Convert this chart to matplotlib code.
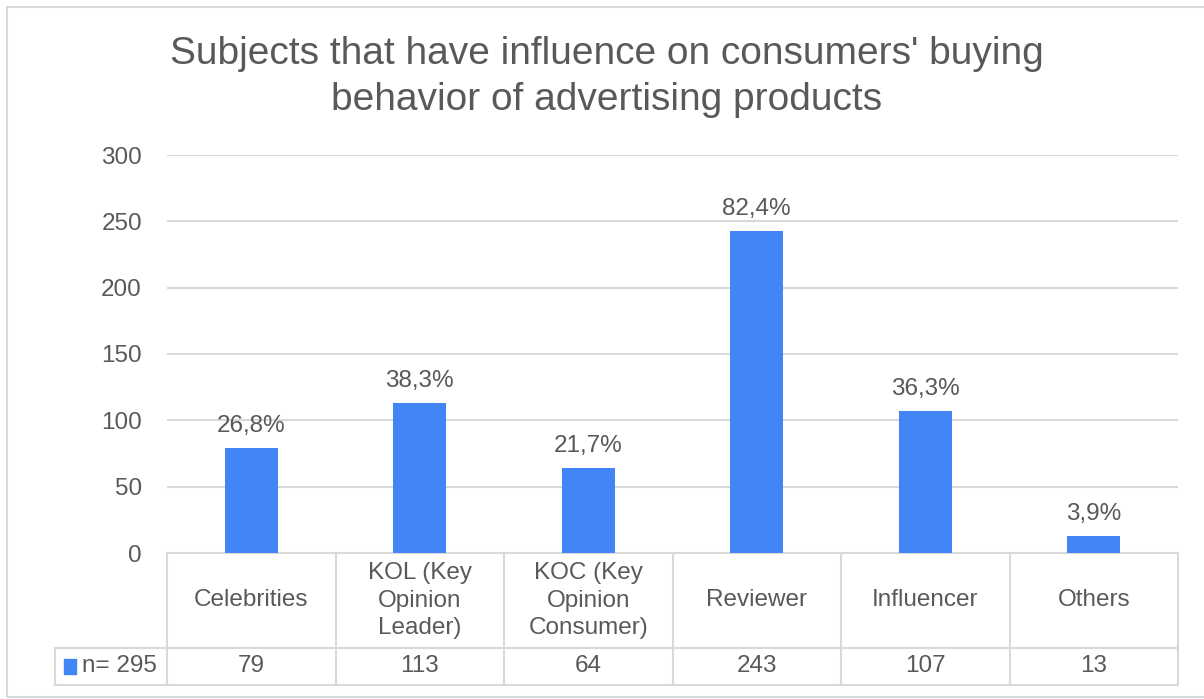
import matplotlib
matplotlib.use('Agg')

import matplotlib.pyplot as plt
from matplotlib.patches import Rectangle
from matplotlib.transforms import blended_transform_factory

plt.rcParams['font.family'] = ['Liberation Sans', 'DejaVu Sans']

categories = ['Celebrities', 'KOL (Key\nOpinion\nLeader)', 'KOC (Key\nOpinion\nConsumer)',
              'Reviewer', 'Influencer', 'Others']
counts = [79, 113, 64, 243, 107, 13]
percent_labels = ['26,8%', '38,3%', '21,7%', '82,4%', '36,3%', '3,9%']
series_name = 'n= 295'
yticks = [0, 50, 100, 150, 200, 250, 300]

BLUE = '#4285F4'
TEXT = '#595959'
GRID = '#D9D9D9'
FS = 17.5

fig = plt.figure(figsize=(12.04, 6.99), dpi=100)

# outer chart frame
fig.patches.append(Rectangle((7 / 1204, 2 / 699), 1.0, 690 / 699, transform=fig.transFigure,
                             fill=False, edgecolor=GRID, linewidth=1.5))

fig.text(607 / 1204, 1 - 77 / 699,
         "Subjects that have influence on consumers' buying\nbehavior of advertising products",
         ha='center', va='center', fontsize=28, color=TEXT, linespacing=1.36)

ax = fig.add_axes([167 / 1204, 146 / 699, 1011 / 1204, 398 / 699])
x = [i + 0.5 for i in range(len(categories))]
ax.bar(x, counts, width=0.315, color=BLUE, zorder=3)
ax.set_xlim(0, len(categories))
ax.set_ylim(0, 300)

for s in ax.spines.values():
    s.set_visible(False)
ax.set_xticks([])
ax.set_yticks(yticks)
ax.tick_params(axis='y', length=0, pad=18, labelsize=FS, labelcolor=TEXT)
for t in yticks[1:]:
    ax.axhline(t, color=GRID, linewidth=1.5, zorder=1)

for xi, c, lab in zip(x, counts, percent_labels):
    ax.annotate(lab, (xi, c), xytext=(0, 8), textcoords='offset points',
                ha='center', va='bottom', fontsize=FS, color=TEXT)

# data table below the plot: x in data units, y in axes fraction
tr = blended_transform_factory(ax.transData, ax.transAxes)
h = 398.0
row1 = -95 / h
row2 = -132 / h
left = -112 / 168.5
n = len(categories)
kw = dict(color=GRID, linewidth=1.5, transform=tr, clip_on=False, zorder=2)
ax.plot([0, n], [0, 0], **kw)
ax.plot([left, n], [row1, row1], **kw)
ax.plot([left, n], [row2, row2], **kw)
ax.plot([left, left], [row1, row2], **kw)
for i in range(n + 1):
    ax.plot([i, i], [0, row2], **kw)

for xi, cat, c in zip(x, categories, counts):
    ax.text(xi, row1 / 2, cat, transform=tr, ha='center', va='center',
            fontsize=FS, color=TEXT, linespacing=1.33)
    ax.text(xi, (row1 + row2) / 2, str(c), transform=tr, ha='center', va='center',
            fontsize=FS, color=TEXT)

ax.add_patch(Rectangle((left + 0.055, (row1 + row2) / 2 - 0.02), 0.07, 0.04,
                       transform=tr, color=BLUE, clip_on=False))
ax.text(left + 0.16, (row1 + row2) / 2, series_name, transform=tr, ha='left', va='center',
        fontsize=FS, color=TEXT)

fig.savefig('out.png', dpi=100)
